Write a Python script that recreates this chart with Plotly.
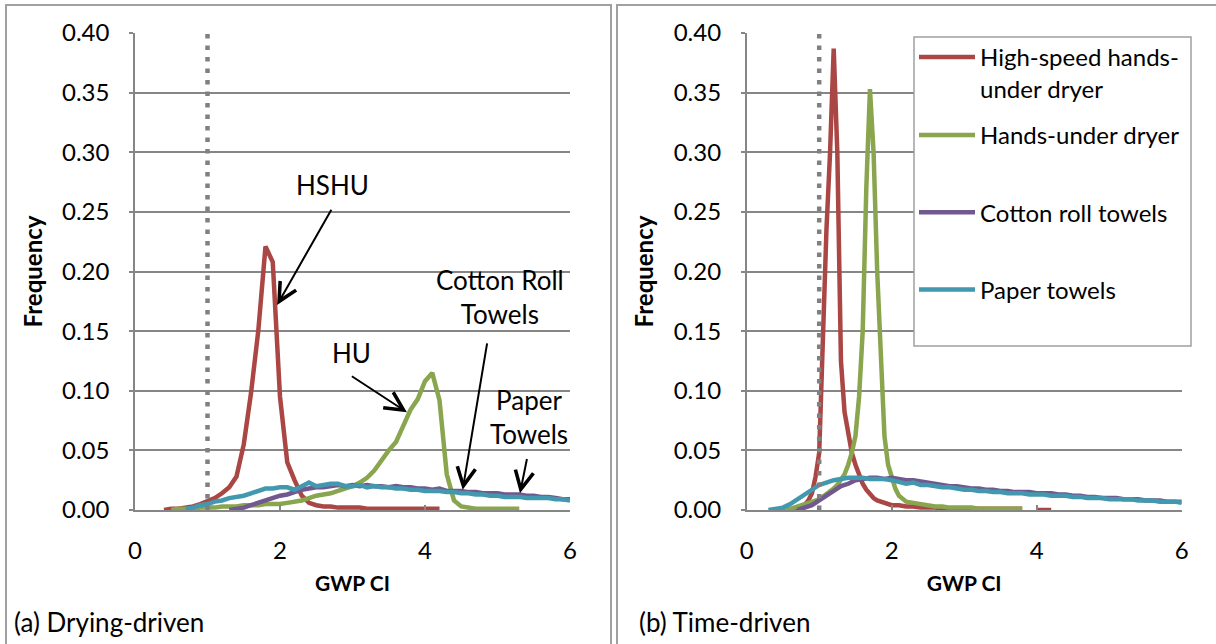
import plotly.graph_objects as go

# ---------------- data ----------------
# (a) Drying-driven : bins of 0.1
x_hshu_a = [round(0.4 + 0.1 * i, 2) for i in range(39)]
hshu_a = [0.000, 0.001, 0.001, 0.002, 0.003, 0.005, 0.007, 0.010, 0.014, 0.019,
          0.028, 0.055, 0.098, 0.150, 0.221, 0.208, 0.095, 0.040, 0.025, 0.012,
          0.006, 0.004, 0.003, 0.003, 0.002, 0.002, 0.002, 0.002, 0.001, 0.001,
          0.001, 0.001, 0.001, 0.001, 0.001, 0.001, 0.001, 0.001, 0.001]

x_hu_a = [round(0.5 + 0.1 * i, 2) for i in range(49)]
hu_a = [0.000, 0.001, 0.001, 0.001, 0.002, 0.002, 0.002, 0.003, 0.003, 0.003,
        0.004, 0.004, 0.004, 0.005, 0.005, 0.005, 0.006, 0.007, 0.008, 0.010,
        0.012, 0.013, 0.014, 0.016, 0.018, 0.020, 0.023, 0.027, 0.033, 0.042,
        0.050, 0.057, 0.070, 0.084, 0.093, 0.108, 0.115, 0.092, 0.030, 0.008,
        0.003, 0.002, 0.001, 0.001, 0.001, 0.001, 0.001, 0.001, 0.001]

x_cot_a = [round(1.3 + 0.1 * i, 2) for i in range(48)]
cot_a = [0.000, 0.001, 0.002, 0.004, 0.006, 0.008, 0.010, 0.012, 0.013, 0.015,
         0.017, 0.018, 0.019, 0.019, 0.020, 0.021, 0.020, 0.021, 0.020, 0.021,
         0.020, 0.020, 0.019, 0.020, 0.019, 0.019, 0.018, 0.018, 0.017, 0.018,
         0.016, 0.016, 0.016, 0.015, 0.015, 0.014, 0.014, 0.014, 0.013, 0.013,
         0.013, 0.012, 0.012, 0.011, 0.011, 0.010, 0.009, 0.009]

x_pap_a = [round(0.7 + 0.1 * i, 2) for i in range(54)]
pap_a = [0.001, 0.002, 0.004, 0.005, 0.007, 0.008, 0.010, 0.011, 0.012, 0.014,
         0.016, 0.018, 0.018, 0.019, 0.019, 0.017, 0.020, 0.023, 0.020, 0.021,
         0.022, 0.022, 0.020, 0.020, 0.021, 0.019, 0.020, 0.019, 0.019, 0.018,
         0.018, 0.017, 0.017, 0.016, 0.016, 0.016, 0.015, 0.015, 0.014, 0.014,
         0.013, 0.013, 0.012, 0.012, 0.011, 0.011, 0.011, 0.010, 0.010, 0.010,
         0.010, 0.009, 0.009, 0.008]

# (b) Time-driven
x_hshu_b = [0.60, 0.65, 0.70, 0.75, 0.80, 0.85, 0.90, 0.95, 1.00, 1.05,
            1.10, 1.15, 1.20, 1.25, 1.30, 1.35, 1.40, 1.45, 1.50, 1.55,
            1.60, 1.65, 1.70, 1.75, 1.80, 1.85, 1.90, 1.95, 2.00, 2.10,
            2.20, 2.30, 2.40, 2.50, 2.60, 2.70, 2.80, 2.90, 3.00, 3.10,
            3.20, 3.30, 3.40, 3.50, 3.60, 3.70, 3.80, 3.90, 4.00, 4.10, 4.20]
hshu_b = [0.000, 0.000, 0.001, 0.002, 0.004, 0.008, 0.014, 0.028, 0.048, 0.155,
          0.235, 0.300, 0.387, 0.300, 0.125, 0.082, 0.062, 0.048, 0.038, 0.030,
          0.022, 0.017, 0.013, 0.010, 0.008, 0.007, 0.006, 0.005, 0.004, 0.004,
          0.003, 0.003, 0.002, 0.002, 0.002, 0.001, 0.001, 0.001, 0.001, 0.001,
          0.001, 0.001, 0.001, 0.001, 0.001, 0.001, 0.001, None, 0.000, 0.000, 0.000]

x_hu_b = [0.50, 0.55, 0.60, 0.65, 0.70, 0.75, 0.80, 0.85, 0.90, 0.95,
          1.00, 1.05, 1.10, 1.15, 1.20, 1.25, 1.30, 1.35, 1.40, 1.45,
          1.50, 1.55, 1.60, 1.65, 1.70, 1.75, 1.80, 1.85, 1.90, 1.95,
          2.00, 2.05, 2.10, 2.15, 2.20, 2.30, 2.40, 2.50, 2.60, 2.70,
          2.80, 2.90, 3.00, 3.10, 3.20, 3.30, 3.40, 3.50, 3.60, 3.70, 3.80]
hu_b = [0.000, 0.001, 0.001, 0.002, 0.003, 0.004, 0.005, 0.006, 0.007, 0.008,
        0.009, 0.011, 0.013, 0.015, 0.018, 0.021, 0.025, 0.030, 0.038, 0.048,
        0.062, 0.095, 0.150, 0.270, 0.353, 0.300, 0.200, 0.120, 0.062, 0.038,
        0.027, 0.018, 0.012, 0.009, 0.007, 0.006, 0.005, 0.004, 0.003, 0.003,
        0.002, 0.002, 0.002, 0.002, 0.001, 0.001, 0.001, 0.001, 0.001, 0.001, 0.001]

x_cot_b = [round(0.7 + 0.1 * i, 2) for i in range(54)]
cot_b = [0.000, 0.002, 0.004, 0.008, 0.012, 0.016, 0.020, 0.022, 0.025, 0.026,
         0.027, 0.027, 0.026, 0.027, 0.026, 0.025, 0.025, 0.024, 0.023, 0.022,
         0.021, 0.020, 0.020, 0.019, 0.018, 0.018, 0.017, 0.017, 0.016, 0.016,
         0.015, 0.015, 0.015, 0.014, 0.014, 0.014, 0.013, 0.013, 0.012, 0.012,
         0.011, 0.011, 0.010, 0.010, 0.010, 0.009, 0.009, 0.009, 0.008, 0.008,
         0.008, 0.007, 0.007, 0.007]

x_pap_b = [round(0.3 + 0.1 * i, 2) for i in range(58)]
pap_b = [0.000, 0.001, 0.002, 0.005, 0.009, 0.014, 0.018, 0.021, 0.023, 0.025,
         0.026, 0.027, 0.027, 0.027, 0.026, 0.026, 0.026, 0.025, 0.023, 0.022,
         0.023, 0.021, 0.021, 0.020, 0.019, 0.019, 0.018, 0.017, 0.017, 0.016,
         0.016, 0.015, 0.015, 0.014, 0.014, 0.014, 0.013, 0.013, 0.013, 0.012,
         0.012, 0.012, 0.011, 0.011, 0.010, 0.010, 0.010, 0.009, 0.009, 0.009,
         0.009, 0.008, 0.008, 0.008, 0.007, 0.007, 0.007, 0.006]

ref_x = [1, 1]
ref_y = [0, 0.4]

series_names = ["High-speed hands-<br>under dryer", "Hands-under dryer",
                "Cotton roll towels", "Paper towels"]
colors = ["#AA4643", "#89A54E", "#71588F", "#4198AF"]
y_ticks = [0, 0.05, 0.10, 0.15, 0.20, 0.25, 0.30, 0.35, 0.40]
x_ticks = [0, 2, 4, 6]

FONT = "Lato"
W, H = 1216, 644

fig = go.Figure()

panel_a = [(x_hshu_a, hshu_a), (x_hu_a, hu_a), (x_cot_a, cot_a), (x_pap_a, pap_a)]
panel_b = [(x_hshu_b, hshu_b), (x_hu_b, hu_b), (x_cot_b, cot_b), (x_pap_b, pap_b)]

for i, (xs, ys) in enumerate(panel_a):
    fig.add_trace(go.Scatter(x=xs, y=ys, mode="lines", xaxis="x", yaxis="y",
                             line=dict(color=colors[i], width=4.5),
                             showlegend=False, hoverinfo="skip",
                             connectgaps=False))
for i, (xs, ys) in enumerate(panel_b):
    fig.add_trace(go.Scatter(x=xs, y=ys, mode="lines", xaxis="x2", yaxis="y2",
                             name=series_names[i], legendgroup=str(i),
                             legend="legend" if i == 0 else "legend2",
                             line=dict(color=colors[i], width=4.5),
                             showlegend=True, hoverinfo="skip",
                             connectgaps=False))
for xa, ya in (("x", "y"), ("x2", "y2")):
    fig.add_trace(go.Scatter(x=ref_x, y=ref_y, mode="lines", xaxis=xa, yaxis=ya,
                             line=dict(color="#808080", width=4.5, dash="4.5px,7px"),
                             showlegend=False, hoverinfo="skip"))

ydom = [(H - 510) / H, (H - 33) / H]
axis_common = dict(range=[0, 6], tickvals=x_ticks, showgrid=False, zeroline=False,
                   automargin=False,
                   showline=True, linecolor="#868686", linewidth=1.5,
                   ticks="inside", ticklen=5, tickcolor="#868686", tickwidth=1.5,
                   tickfont=dict(family=FONT, size=24, color="black"),
                   ticklabelstandoff=18,
                   title=dict(text="<b>GWP CI</b>", font=dict(family=FONT, size=21, color="black"),
                              standoff=14))
yaxis_common = dict(range=[0, 0.4], tickvals=y_ticks, tickformat=".2f",
                    automargin=False,
                    showgrid=True, gridcolor="#868686", gridwidth=1.5, zeroline=False,
                    showline=True, linecolor="#868686", linewidth=1.5,
                    ticks="outside", ticklen=4, tickcolor="#868686", tickwidth=1.5,
                    tickfont=dict(family=FONT, size=24, color="black"),
                    ticklabelstandoff=15,
                    title=dict(text="<b>Frequency</b>", font=dict(family=FONT, size=24, color="black"),
                               standoff=13))

legend_common = dict(xanchor="left", yanchor="top", bgcolor="rgba(0,0,0,0)",
                     borderwidth=0, font=dict(family=FONT, size=24, color="black"),
                     valign="top", itemwidth=56, traceorder="grouped",
                     tracegroupgap=43)

fig.update_layout(
    width=W, height=H, autosize=False,
    margin=dict(l=0, r=0, t=0, b=0, pad=0),
    paper_bgcolor="white", plot_bgcolor="white",
    font=dict(family=FONT, color="black"),
    xaxis=dict(domain=[135 / W, 570 / W], anchor="y", **axis_common),
    yaxis=dict(domain=ydom, anchor="x", **yaxis_common),
    xaxis2=dict(domain=[746.7 / W, 1181.7 / W], anchor="y2", **axis_common),
    yaxis2=dict(domain=ydom, anchor="x2", **yaxis_common),
    legend=dict(x=914 / W, y=1 - 35 / H, **legend_common),
    legend2=dict(x=914 / W, y=1 - 113 / H, **legend_common),
    showlegend=True,
)

# legend frame (white box behind both legend blocks)
fig.add_shape(type="rect", xref="paper", yref="paper",
              x0=914 / W, x1=1191 / W, y0=1 - 346 / H, y1=1 - 37 / H,
              fillcolor="white", line=dict(color="#A0A0A0", width=1.5), layer="above")

# panel frames
for x0, x1 in ((6 / W, 611 / W), (617 / W, 1.01)):
    fig.add_shape(type="rect", xref="paper", yref="paper", x0=x0, x1=x1,
                  y0=-0.02, y1=1 - 5 / H, line=dict(color="#A0A0A0", width=2),
                  layer="below")

# captions
fig.add_annotation(x=12 / W, y=1 - 622 / H, xref="paper", yref="paper",
                   text="(a) Drying-driven", showarrow=False, xanchor="left",
                   yanchor="middle", font=dict(family=FONT, size=26, color="black"))
fig.add_annotation(x=637 / W, y=1 - 622 / H, xref="paper", yref="paper",
                   text="(b) Time-driven", showarrow=False, xanchor="left",
                   yanchor="middle", font=dict(family=FONT, size=26, color="black"))

# callout labels (panel a)
labels = [("HSHU", 2.73, 0.2725), ("HU", 2.99, 0.132),
          ("Cotton Roll<br>Towels", 5.03, 0.179), ("Paper<br>Towels", 5.43, 0.078)]
for txt, lx, ly in labels:
    fig.add_annotation(x=lx, y=ly, xref="x", yref="y", text=txt, showarrow=False,
                       font=dict(family=FONT, size=26, color="black"))

arrows = [((2.72, 0.253), (1.96, 0.172)), ((2.97, 0.113), (3.75, 0.082)),
          ((4.86, 0.141), (4.52, 0.017)), ((5.41, 0.044), (5.31, 0.014))]
for (tx, ty), (hx, hy) in arrows:
    fig.add_annotation(x=hx, y=hy, ax=tx, ay=ty, xref="x", yref="y",
                       axref="x", ayref="y", text="", showarrow=True,
                       arrowhead=5, arrowsize=1.8, arrowwidth=2, arrowcolor="black")

fig.write_html("out.html", config={"displayModeBar": False},
               post_script="document.body.style.margin='0';")
